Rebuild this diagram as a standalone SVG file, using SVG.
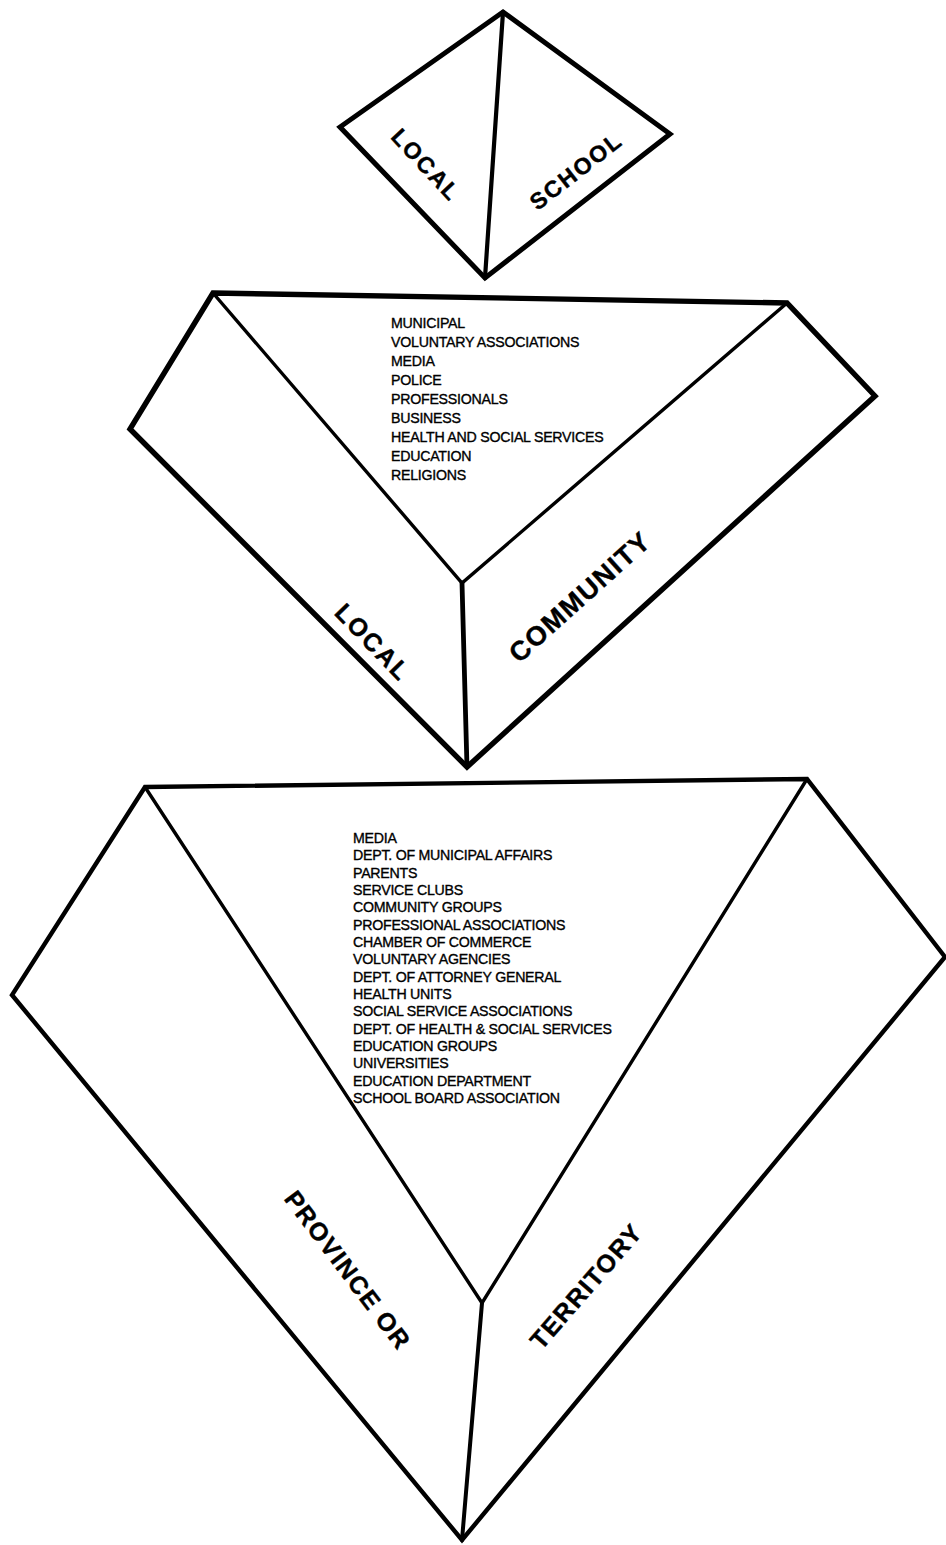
<svg xmlns="http://www.w3.org/2000/svg" width="946" height="1545" viewBox="0 0 946 1545">
<style>
.bg{fill:#fff}
.o{fill:none;stroke:#000;stroke-width:5;stroke-linejoin:miter;stroke-linecap:round}
.i{fill:none;stroke:#000;stroke-width:3.4;stroke-linecap:round}
.lst{font-family:"Liberation Sans",Arial,sans-serif;font-size:14.2px;fill:#000;stroke:#000;stroke-width:0.35px;letter-spacing:-0.25px}
.big{font-family:"Liberation Sans",Arial,sans-serif;font-weight:bold;fill:#000;stroke:#000;stroke-width:0.4px;text-anchor:middle;dominant-baseline:central}
</style>
<rect class="bg" x="0" y="0" width="946" height="1545"/>

<g id="school">
<polygon class="o" points="503,12 670,134 485,278 340,127"/>
<line class="i" x1="503" y1="12" x2="485" y2="278" style="stroke-width:4.2"/>
<text class="big" font-size="23" letter-spacing="2" transform="translate(426,165) rotate(47)">LOCAL</text>
<text class="big" font-size="23" letter-spacing="2" transform="translate(576,171) rotate(-38)">SCHOOL</text>
</g>

<g id="community">
<polygon class="o" points="213,293 787,303 875,396 467,767 130,429" style="stroke-width:5.4"/>
<polyline class="i" points="213,293 462,583 787,303"/>
<line class="o" x1="462" y1="583" x2="467" y2="767" style="stroke-width:4.8"/>
<text class="lst" x="391">
<tspan x="391" y="328">MUNICIPAL</tspan>
<tspan x="391" y="347">VOLUNTARY ASSOCIATIONS</tspan>
<tspan x="391" y="366">MEDIA</tspan>
<tspan x="391" y="385">POLICE</tspan>
<tspan x="391" y="404">PROFESSIONALS</tspan>
<tspan x="391" y="423">BUSINESS</tspan>
<tspan x="391" y="442">HEALTH AND SOCIAL SERVICES</tspan>
<tspan x="391" y="461">EDUCATION</tspan>
<tspan x="391" y="480">RELIGIONS</tspan>
</text>
<text class="big" font-size="25" letter-spacing="2" transform="translate(373,642) rotate(46)">LOCAL</text>
<text class="big" font-size="27" letter-spacing="1.5" transform="translate(580,597) rotate(-42)">COMMUNITY</text>
</g>

<g id="province">
<polygon class="o" points="145,787 807,779 945,957 462,1540 12,995" style="stroke-width:4.4"/>
<polyline class="i" points="145,787 482,1303 807,779"/>
<line class="o" x1="482" y1="1303" x2="462" y2="1540" style="stroke-width:4"/>
<text class="lst" x="353">
<tspan x="353" y="843">MEDIA</tspan>
<tspan x="353" y="860.3">DEPT. OF MUNICIPAL AFFAIRS</tspan>
<tspan x="353" y="877.7">PARENTS</tspan>
<tspan x="353" y="895">SERVICE CLUBS</tspan>
<tspan x="353" y="912.3">COMMUNITY GROUPS</tspan>
<tspan x="353" y="929.7">PROFESSIONAL ASSOCIATIONS</tspan>
<tspan x="353" y="947">CHAMBER OF COMMERCE</tspan>
<tspan x="353" y="964.3">VOLUNTARY AGENCIES</tspan>
<tspan x="353" y="981.7">DEPT. OF ATTORNEY GENERAL</tspan>
<tspan x="353" y="999">HEALTH UNITS</tspan>
<tspan x="353" y="1016.3">SOCIAL SERVICE ASSOCIATIONS</tspan>
<tspan x="353" y="1033.7">DEPT. OF HEALTH &amp; SOCIAL SERVICES</tspan>
<tspan x="353" y="1051">EDUCATION GROUPS</tspan>
<tspan x="353" y="1068.3">UNIVERSITIES</tspan>
<tspan x="353" y="1085.7">EDUCATION DEPARTMENT</tspan>
<tspan x="353" y="1103">SCHOOL BOARD ASSOCIATION</tspan>
</text>
<text class="big" font-size="25" letter-spacing="1.5" transform="translate(348,1270) rotate(53)">PROVINCE OR</text>
<text class="big" font-size="25" letter-spacing="1.5" transform="translate(586,1286) rotate(-49)">TERRITORY</text>
</g>

<g id="connectors"></g>
</svg>
